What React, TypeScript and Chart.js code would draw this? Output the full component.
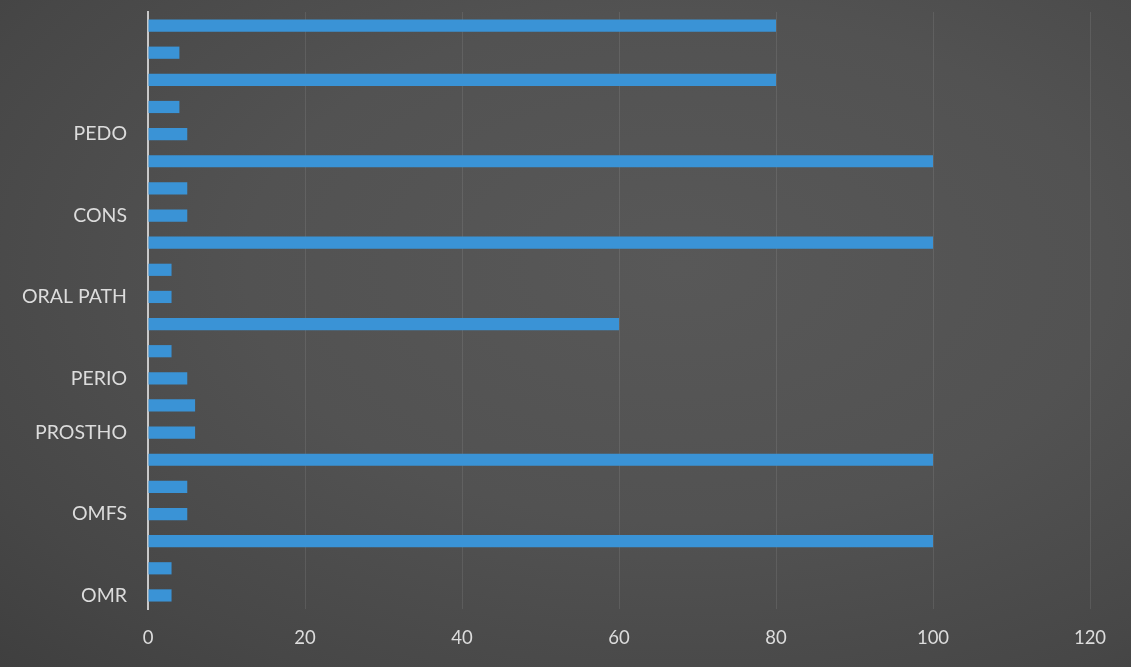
import React, { useEffect, useRef } from "react";
import { Chart, registerables } from "chart.js";

Chart.register(...registerables);

const categories: string[] = [
  "", "", "", "", "PEDO", "", "", "CONS", "", "", "ORAL PATH",
  "", "", "PERIO", "", "PROSTHO", "", "", "OMFS", "", "", "OMR",
];
const values: number[] = [
  80, 4, 80, 4, 5, 100, 5, 5, 100, 3, 3,
  60, 3, 5, 6, 6, 100, 5, 5, 100, 3, 3,
];
const xTicks: number[] = [0, 20, 40, 60, 80, 100, 120];

export default function App() {
  const ref = useRef<HTMLCanvasElement | null>(null);

  useEffect(() => {
    if (!ref.current) return;
    const chart = new Chart(ref.current, {
      type: "bar",
      data: {
        labels: categories,
        datasets: [
          {
            data: values,
            backgroundColor: "#3a93d6",
            borderWidth: 0,
            barPercentage: 0.9,
            categoryPercentage: 0.5,
          },
        ],
      },
      options: {
        indexAxis: "y",
        responsive: false,
        animation: false,
        layout: { padding: { left: 0, top: 12, right: 41, bottom: 0 } },
        plugins: { legend: { display: false }, tooltip: { enabled: false } },
        scales: {
          x: {
            min: 0,
            max: 120,
            afterBuildTicks: (axis: any) => {
              axis.ticks = xTicks.map((v) => ({ value: v }));
            },
            grid: { color: "rgba(255,255,255,0.09)", drawTicks: false },
            border: { display: false },
            ticks: {
              color: "#dcdcdc",
              font: { family: "Lato, 'Open Sans', sans-serif", size: 18.5 },
              padding: 18,
            },
            afterFit: (axis: any) => {
              axis.height = 58;
              axis.paddingTop = 0;
              axis.paddingBottom = 0;
              axis.paddingLeft = 0;
              axis.paddingRight = 0;
            },
          },
          y: {
            grid: { display: false, drawTicks: false },
            border: { display: true, color: "#c8c8c8", width: 2 },
            ticks: {
              autoSkip: false,
              color: "#dcdcdc",
              font: { family: "Lato, 'Open Sans', sans-serif", size: 19.5 },
              padding: 21,
            },
            afterFit: (axis: any) => {
              axis.width = 148;
              axis.paddingTop = 0;
              axis.paddingBottom = 0;
              axis.paddingLeft = 0;
              axis.paddingRight = 0;
            },
          },
        },
      },
    });
    return () => chart.destroy();
  }, []);

  return (
    <div
      style={{
        position: "fixed",
        left: 0,
        top: 0,
        width: 1131,
        height: 667,
        background:
          "radial-gradient(ellipse at 60% 40%, #585858 0%, #525252 45%, #474747 80%, #3f3f3f 100%)",
      }}
    >
      <canvas ref={ref} width={1131} height={667} />
    </div>
  );
}
